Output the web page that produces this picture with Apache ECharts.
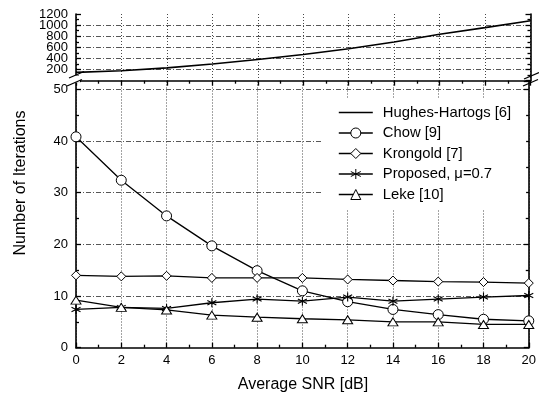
<!DOCTYPE html>
<html><head><meta charset="utf-8">
<script src="https://cdn.jsdelivr.net/npm/echarts@6/dist/echarts.min.js"></script>
<style>html,body{margin:0;padding:0;background:#fff}#c{width:539px;height:396px}</style>
</head><body><div id="c"></div>
<script>
const snr = [0, 2, 4, 6, 8, 10, 12, 14, 16, 18, 20];
const hughesHartogs = [150, 180, 230, 300, 380, 470, 575, 695, 835, 955, 1080];
const chow = [40.8, 32.4, 25.5, 19.7, 14.9, 11.0, 8.9, 7.4, 6.4, 5.5, 5.2];
const krongold = [14.0, 13.8, 13.9, 13.5, 13.5, 13.5, 13.2, 13.0, 12.8, 12.7, 12.5];
const proposed = [7.4, 7.8, 7.6, 8.7, 9.4, 9.0, 9.8, 9.0, 9.4, 9.8, 10.1];
const leke = [9.2, 7.8, 7.3, 6.3, 5.9, 5.6, 5.4, 5.0, 5.0, 4.5, 4.5];
const seriesNames = ['Hughes-Hartogs [6]', 'Chow [9]', 'Krongold [7]', 'Proposed, μ=0.7', 'Leke [10]'];
const topTicks = [200, 400, 600, 800, 1000];
const topMaxTick = 1200;
const bottomTicks = [0, 10, 20, 30, 40, 50];

const pair = arr => snr.map((x, i) => [x, arr[i]]);
const FONT = 'Liberation Sans, Arial, sans-serif';
const AX = { lineStyle: { color: '#000', width: 1.6 } };
const hGrid = { show: true, lineStyle: { color: '#444', width: 0.9, type: [5, 2, 1, 2] } };
const vGrid = { show: true, lineStyle: { color: '#333', width: 0.9, type: [1, 2] } };
const tick = { show: true, inside: true, length: 5, lineStyle: { color: '#000', width: 1.3 } };
const minor = { show: true, splitNumber: 2, length: 3, lineStyle: { color: '#000', width: 1.3 } };
const lbl = { color: '#000', fontSize: 13, fontFamily: FONT, margin: 8 };
const asterisk = 'path://M0,-5L0,5M-4.33,-2.5L4.33,2.5M-4.33,2.5L4.33,-2.5';

const chart = echarts.init(document.getElementById('c'), null, { renderer: 'canvas' });
const lineBase = { type: 'line', lineStyle: { color: '#000', width: 1.3 }, itemStyle: { color: '#fff', borderColor: '#000', borderWidth: 1 }, emphasis: { disabled: true }, animation: false, z: 3 };

chart.setOption({
  animation: false,
  backgroundColor: '#fff',
  grid: [
    { left: 76, right: 8.5, top: 14, height: 66.7 },
    { left: 76, right: 8.5, top: 81.5, bottom: 48.3 }
  ],
  xAxis: [
    { gridIndex: 0, type: 'value', min: 0, max: 20, interval: 2, position: 'top',
      axisLine: AX, axisTick: tick, minorTick: minor, axisLabel: { show: false }, splitLine: vGrid },
    { gridIndex: 1, type: 'value', min: 0, max: 20, interval: 2, position: 'bottom',
      axisLine: AX, axisTick: tick, minorTick: minor, axisLabel: Object.assign({}, lbl, { margin: 6 }), splitLine: vGrid }
  ],
  yAxis: [
    { gridIndex: 0, type: 'value', min: 0, max: 1200, interval: 200, position: 'left',
      axisLine: AX, axisTick: tick, minorTick: minor,
      axisLabel: Object.assign({}, lbl, { showMaxLabel: false, showMinLabel: false, formatter: v => topTicks.indexOf(v) >= 0 ? String(v) : '' }),
      splitLine: Object.assign({}, hGrid, { showMinLine: false, showMaxLine: false }) },
    { gridIndex: 0, type: 'value', min: 0, max: 1200, interval: 200, position: 'right',
      axisLine: AX, axisTick: tick, minorTick: minor, axisLabel: { show: false }, splitLine: { show: false } },
    { gridIndex: 1, type: 'value', min: 0, max: 51.5, interval: 10, position: 'left',
      axisLine: AX, axisTick: tick, minorTick: minor,
      axisLabel: Object.assign({}, lbl, { showMaxLabel: false, formatter: v => bottomTicks.indexOf(v) >= 0 ? String(v) : '' }),
      splitLine: Object.assign({}, hGrid, { showMinLine: false, showMaxLine: false }) },
    { gridIndex: 1, type: 'value', min: 0, max: 51.5, interval: 10, position: 'right',
      axisLine: AX, axisTick: tick, minorTick: minor, axisLabel: { show: false }, splitLine: { show: false } },
    { gridIndex: 0, type: 'value', min: 0, max: 1200, interval: 200, position: 'left', offset: 0,
      axisLine: { show: false }, axisTick: { show: false }, splitLine: { show: false },
      axisLabel: Object.assign({}, lbl, { showMaxLabel: true, showMinLabel: false, formatter: v => v === topMaxTick ? String(v) : '' }) }
  ],
  legend: {
    left: 322, top: 98, orient: 'vertical',
    padding: [7, 15, 8, 16], backgroundColor: '#fff',
    itemWidth: 34, itemHeight: 12.5, itemGap: 5.5,
    itemStyle: { borderWidth: 1 },
    lineStyle: { width: 1.3 },
    textStyle: { color: '#000', fontSize: 14.8, fontFamily: FONT, padding: [0, 0, 0, 5] },
    data: [
      { name: seriesNames[0], itemStyle: { opacity: 0 }, lineStyle: { width: 1.6 } },
      seriesNames[1], seriesNames[2], seriesNames[3], seriesNames[4]
    ],
    z: 10
  },
  series: [
    Object.assign({}, lineBase, { name: seriesNames[0], xAxisIndex: 0, yAxisIndex: 0, data: pair(hughesHartogs), symbol: 'none', lineStyle: { color: '#000', width: 1.6 } }),
    Object.assign({}, lineBase, { name: seriesNames[1], xAxisIndex: 1, yAxisIndex: 2, data: pair(chow), symbol: 'circle', symbolSize: 10 }),
    Object.assign({}, lineBase, { name: seriesNames[2], xAxisIndex: 1, yAxisIndex: 2, data: pair(krongold), symbol: 'diamond', symbolSize: 9 }),
    Object.assign({}, lineBase, { name: seriesNames[3], xAxisIndex: 1, yAxisIndex: 2, data: pair(proposed), symbol: asterisk, symbolSize: 9, itemStyle: { color: 'none', borderColor: '#000', borderWidth: 1.1 } }),
    Object.assign({}, lineBase, { name: seriesNames[4], xAxisIndex: 1, yAxisIndex: 2, data: pair(leke), symbol: 'triangle', symbolSize: [10, 8] })
  ],
  graphic: [
    { type: 'rect', shape: { x: 71, y: 75.5, width: 9, height: 7 }, style: { fill: '#fff' }, z: 100 },
    { type: 'line', shape: { x1: 69, y1: 78, x2: 84, y2: 71.5 }, style: { stroke: '#000', lineWidth: 1.3 }, z: 101 },
    { type: 'line', shape: { x1: 67, y1: 86, x2: 82, y2: 79.5 }, style: { stroke: '#000', lineWidth: 1.3 }, z: 101 },
    { type: 'line', shape: { x1: 523, y1: 86, x2: 538, y2: 79.5 }, style: { stroke: '#000', lineWidth: 1.3 }, z: 101 },
    { type: 'line', shape: { x1: 524, y1: 79, x2: 539, y2: 72.5 }, style: { stroke: '#000', lineWidth: 1.3 }, z: 101 },
    { type: 'text', x: 21, y: 183, rotation: Math.PI / 2, style: { text: 'Number of Iterations', fill: '#000', font: '16px ' + FONT, textAlign: 'center', textVerticalAlign: 'middle' }, z: 50 },
    { type: 'text', x: 303, y: 385, style: { text: 'Average SNR [dB]', fill: '#000', font: '16px ' + FONT, textAlign: 'center', textVerticalAlign: 'middle' }, z: 50 }
  ]
});
</script>
</body></html>
